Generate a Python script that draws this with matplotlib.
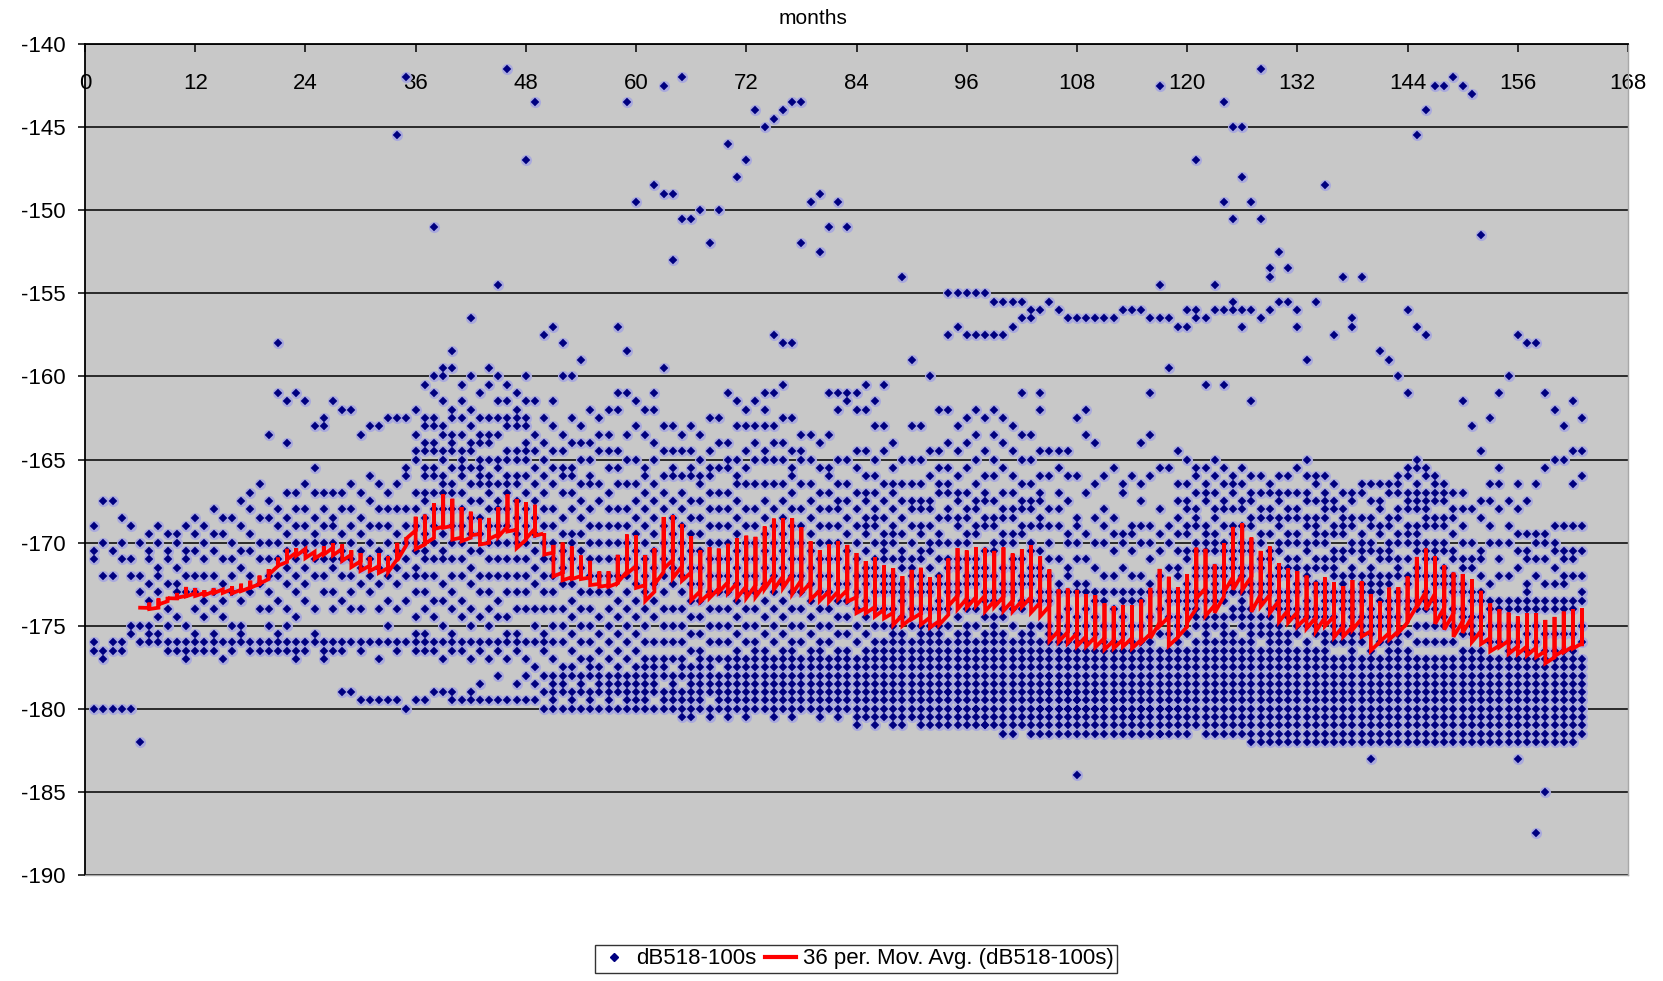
import numpy as np
import matplotlib
matplotlib.use("Agg")
import matplotlib.pyplot as plt
from matplotlib.lines import Line2D

plt.rcParams["font.family"] = ["Liberation Sans", "DejaVu Sans"]
plt.rcParams["axes.unicode_minus"] = False

# Monthly readings of dB518-100s; each string is one month (month 1 first),
# values are level magnitudes in dB and are plotted as negative numbers.
M001_012 = [
    "169 170.5 171 176 176.5 180",
    "167.5 170 172 176.5 177 180",
    "167.5 170.5 172 176 176.5 180",
    "168.5 170 171 176 176.5 180",
    "169 171 172 175 175.5 180",
    "170 172 173 175 176 182",
    "169.5 170.5 171 172.5 173.5 175 175.5 176",
    "169 170 171.5 172 173 174.5 175.5 176",
    "169.5 170.5 171 172.5 174 175 176 176.5",
    "169.5 170 171.5 172.5 173 174.5 176 176.5",
    "169 170.5 171 172 173 175 176 176.5 177",
    "168.5 169.5 170.5 172 173 174 175.5 176 176.5",
]
M013_024 = [
    "169 170 171 172 173.5 174.5 176 176.5",
    "168 169.5 170.5 172 173 174 175.5 176 176.5",
    "168.5 169.5 171 172.5 173.5 174.5 176 177",
    "168.5 170 171 172 173 175 176 176.5",
    "167.5 169 170.5 171.5 173.5 175 175.5 176",
    "167 168 169.5 170.5 172 173 176 176.5",
    "166.5 168.5 170 171 172.5 174 176 176.5",
    "163.5 167.5 168.5 170 171 172 173 174 175 176 176.5",
    "158 161 168 169 170 171 172 173.5 175.5 176 176.5",
    "161.5 164 167 168.5 169.5 170.5 171.5 172.5 174 175 176 176.5",
    "161 167 168 169 170 171 172 173 174.5 176 176.5 177",
    "161.5 166.5 168 169 170 170.5 171.5 172.5 173.5 176 176.5",
]
M025_036 = [
    "163 165.5 167 168.5 169.5 170 171 172 174 175.5 176",
    "162.5 163 167 168 169 170 171 172 173 176 176.5 177",
    "161.5 167 168.5 169 170 171 171.5 173 174 176 176.5",
    "162 167 168 169.5 170.5 171 172 173.5 176 176.5 179",
    "162 166.5 168 169 170 171 172 173 174 176 179",
    "163.5 167 168.5 169.5 170.5 171.5 172.5 174 176 176.5 179.5",
    "163 166 167.5 169 170 171 172 173 176 179.5",
    "163 166.5 168 169 170.5 171.5 172.5 174 176 177 179.5",
    "162.5 167 168 169 170 171 172 173.5 175 176 179.5",
    "145.5 162.5 166.5 168 169.5 170.5 171.5 172.5 174 176 176.5 179.5",
    "142 162.5 165.5 166 168 169 170 171 172 173.5 176 180",
    "162 163.5 164.5 165 167 168 169 170 170.5 171.5 172 173 174.5 175.5 176 176.5 179.5",
]
M037_048 = [
    "160.5 162.5 163 164 164.5 165.5 166 167 167.5 168.5 169.5 170.5 171 172 173 174 175.5 176 176.5 179.5",
    "151 160 161 162.5 163 164 164.5 165.5 166 167 168 169 170 171 172 173.5 174.5 176 176.5 179",
    "159.5 160 161.5 163 163.5 164.5 165 166 166.5 167 168 169.5 170.5 171 172.5 173.5 175 176 177 179",
    "158.5 159.5 162 162.5 163.5 164 164.5 165.5 166.5 167 168 169 170 171 172 173 174 175.5 176 176.5 179 179.5",
    "160.5 161.5 162.5 163.5 164.5 165 165.5 166 167 168 169 170 171 172 173.5 174.5 176 176.5 179.5",
    "156.5 160 162 163 164 164.5 165.5 166.5 167.5 168.5 169.5 170.5 171.5 172.5 174 175 176 177 179 179.5",
    "161 162.5 163.5 164 165 165.5 166 166.5 167.5 168.5 169.5 170.5 172 173 174.5 176 176.5 178.5 179.5",
    "159.5 160.5 162.5 163.5 164 165 166 166.5 167 168 169 170 171 172 173 174 175 176 177 179.5",
    "154.5 160 161.5 162.5 163.5 165 165.5 166.5 167.5 168 169 170 171 172 173.5 174.5 176 176.5 178 179.5",
    "141.5 160.5 161.5 162.5 163 164.5 165 166 166.5 167 168 169 170 171 172 173 174.5 175.5 176 177 179.5",
    "161 162 162.5 163 164.5 165 166 166.5 167.5 168.5 169.5 170 171 172 173 174 175.5 176 176.5 178.5 179.5",
    "147 160 161.5 162.5 163 164 164.5 165 166 167 168 169 170 171 172 173 174 176 177 178 179.5",
]
M049_060 = [
    "143.5 161.5 163.5 164.5 165.5 166.5 167.5 168.5 169.5 170.5 171.5 172.5 174 175 176 177.5 178.5 179.5",
    "157.5 162.5 164 165 166 167 168 169 170 171 172 173 174 175.5 176 176.5 178 179 180",
    "157 161.5 163 164.5 165.5 166.5 168 169 170 171 172 173 174 175 176 177 178 178.5 179 179.5 180",
    "158 160 163.5 164.5 165.5 166 167 168.5 169.5 170.5 171.5 172.5 174 175 176 177.5 178 178.5 179 180",
    "160 162.5 164 165.5 166 167 168 169.5 170 171 172.5 173.5 174.5 175.5 176.5 177.5 178 179 179.5 180",
    "159 163 164 165 166.5 167.5 168.5 169.5 170.5 171.5 173 174 175 176 177 178 178.5 179 180",
    "162 164 165 166 166.5 168 169 170 171 172 173 174 175 176 177 177.5 178 179 179.5 180",
    "162.5 163.5 164.5 166.5 167.5 169 170 171 172 173 174.5 175.5 176.5 177.5 178 178.5 179 180",
    "162 163.5 164.5 165.5 167 168 169 170 171 172 173 174 175 176 177 178 178.5 179 179.5 180",
    "157 161 162 164.5 165.5 166.5 168 169 170 171 172 173.5 174.5 175.5 176.5 177.5 178 178.5 179 180",
    "143.5 158.5 161 163.5 165 166.5 168 169 170 171 172 173 174 175 176 177 178 178.5 179 179.5 180",
    "149.5 161.5 163 165 166.5 167.5 168.5 169.5 170.5 171.5 172.5 173.5 174.5 175.5 176.5 177.5 178 178.5 179 179.5 180",
]
M061_072 = [
    "162 163.5 165.5 166 167 168 169 170 171 172 173 174 175 176 177 177.5 178 178.5 179 179.5 180",
    "148.5 161 162 164 165 166.5 167.5 168.5 169.5 170.5 171.5 172.5 173.5 174.5 176 177 177.5 178 178.5 179 180",
    "142.5 149 159.5 163 164.5 166 167 168 169 170 171 172 173 174 175 176 177 177.5 178 179 179.5 180",
    "149 153 163 164.5 165.5 166 167.5 168.5 169.5 170.5 171.5 172.5 174 175 176 177 178 178.5 179 179.5 180",
    "142 150.5 163.5 164.5 166 167 168 169 170 171 172 173 174 175 176 177 177.5 178 179 179.5 180 180.5",
    "150.5 163 164.5 165.5 166 167.5 168.5 169.5 170.5 171.5 172.5 173.5 174.5 175.5 176.5 177.5 178 178.5 179 179.5 180 180.5",
    "150 163.5 165 166 166.5 167.5 168.5 169.5 170.5 171.5 172.5 173.5 174.5 175.5 176.5 177 177.5 178 178.5 179 179.5 180",
    "152 162.5 164.5 165.5 166 167 168 169 170 171 172 173 174 175 176 177 177.5 178 178.5 179 180 180.5",
    "150 162.5 164 165.5 167 168 169 170 171 172 173 174 175 176 177 178 178.5 179 179.5 180",
    "146 161 164 165 165.5 167 168 169 170 171 172 173 174 175 176 177 177.5 178 178.5 179 179.5 180 180.5",
    "148 161.5 163 165 166 166.5 167.5 168.5 169.5 170.5 171.5 172.5 173.5 174.5 175.5 176.5 177 177.5 178 178.5 179 179.5 180",
    "147 162 163 164.5 165.5 166.5 168 169 170 171 172 173 174 175 176 177 177.5 178 178.5 179 179.5 180 180.5",
]
M073_084 = [
    "144 161.5 163 164 165 166.5 168 169 170 171 172 173 174 175 176 176.5 177 177.5 178 178.5 179 179.5 180",
    "145 161 162 163 164.5 165 166.5 167.5 168.5 169.5 170.5 171.5 172.5 173.5 174.5 175.5 176.5 177 177.5 178 178.5 179 179.5 180",
    "144.5 157.5 161 163 164 165 166.5 168 169 170 171 172 173 174 175 176 177 177.5 178 178.5 179 179.5 180 180.5",
    "144 158 160.5 162.5 164 165 166.5 167.5 168.5 169.5 170.5 171.5 172.5 173.5 174.5 175.5 176.5 177 177.5 178 178.5 179 179.5 180",
    "143.5 158 162.5 164.5 165.5 166 167 168 169 170 171 172 173 174 175 176 176.5 177 177.5 178 178.5 179 179.5 180 180.5",
    "143.5 152 163.5 164.5 165 166.5 168 169 170 171 172 173 174 175 176 177 177.5 178 178.5 179 179.5 180",
    "149.5 163.5 165 166.5 167.5 168.5 169.5 170.5 171.5 172.5 173.5 174.5 175.5 176.5 177 177.5 178 178.5 179 179.5 180",
    "149 152.5 164 165.5 167 168 169 170 171 172 173 174 175 176 176.5 177 177.5 178 178.5 179 179.5 180 180.5",
    "151 161 163.5 165.5 166 167 168 169 170 171 172 173 174 175 176 177 177.5 178 178.5 179 179.5 180",
    "149.5 161 162 165 166.5 167.5 168 169 170 171 172.5 173.5 174.5 175.5 176.5 177 177.5 178 178.5 179 179.5 180 180.5",
    "151 161 161.5 165 166.5 167.5 168.5 169.5 170.5 171.5 172.5 173.5 174.5 175.5 176.5 177 177.5 178 178.5 179 179.5 180",
    "161 162 164.5 165.5 167 168 169 170 171 172 173 174 175 176 177 177.5 178 178.5 179 179.5 180 180.5 181",
]
M085_096 = [
    "160.5 162 164.5 166 167 167.5 168.5 169 169.5 170.5 171.5 172 172.5 173.5 174.5 175.5 176.5 177 177.5 178 178.5 179 179.5 180 180.5",
    "161.5 163 165 166 167 168 168.5 169 170 171 171.5 172 173 174 175 176 176.5 177 177.5 178 178.5 179 179.5 180 180.5 181",
    "160.5 163 164.5 166.5 167.5 168.5 169.5 170 170.5 171 172 172.5 173 174 175 176 176.5 177 177.5 178 178.5 179 179.5 180 180.5",
    "164 165.5 166.5 167 168 169 169.5 170 171 172 172.5 173 174 175 175.5 176 176.5 177 177.5 178 178.5 179 179.5 180 180.5 181",
    "154 165 166.5 167.5 168.5 169.5 170.5 171 171.5 172.5 173 173.5 174.5 175.5 176 176.5 177 177.5 178 178.5 179 179.5 180 180.5 181",
    "159 163 165 166.5 167.5 168 169 170 171 171.5 172 173 174 175 176 176.5 177 177.5 178 178.5 179 179.5 180 180.5",
    "163 165 166.5 167.5 168 169 169.5 170.5 171 172 172.5 173 174 175 175.5 176 176.5 177 177.5 178 178.5 179 179.5 180 180.5 181",
    "160 164.5 166 167.5 168 169 170 170.5 171.5 172.5 173 174 175 175.5 176 176.5 177 177.5 178 178.5 179 179.5 180 180.5 181",
    "162 164.5 165.5 166.5 167 168.5 169.5 170 171 172 172.5 173.5 174 175 175.5 176 176.5 177 177.5 178 178.5 179 179.5 180 180.5 181",
    "155 157.5 162 164 165.5 166.5 167 168 168.5 170 171 171.5 172.5 173 174 175 176 176.5 177 177.5 178 178.5 179 179 179.5 180 180.5 181",
    "155 157 163 164.5 166 167 167.5 168.5 169 170 171 171.5 172.5 173 174.5 175.5 176 176.5 177 177.5 178 178.5 179 179.5 180 180 180.5 181",
    "155 157.5 162.5 164 165.5 167 168 168.5 169.5 170 171 172 172.5 173.5 174 175 175.5 176 176.5 177 177.5 178 178.5 179 179.5 180 180.5 181",
]
M097_108 = [
    "155 157.5 162 163.5 165 166.5 167.5 168 169 169.5 171 171.5 172 172.5 174 175 176 176.5 177 177.5 178 178.5 179 179.5 180 180 180.5 181",
    "155 157.5 162.5 164.5 166 167 167.5 168.5 169 170.5 171.5 172 173 173.5 174.5 175.5 176 176.5 177 177.5 178 178.5 179 179.5 180 180.5 181 181",
    "155.5 157.5 162 163.5 165 166 167.5 168.5 169 170 170.5 172 173 173.5 174.5 175 175.5 176 176.5 177 177.5 178 178.5 179 179.5 180 180.5 181",
    "155.5 157.5 162.5 164 165.5 167 168 168.5 169.5 170 171.5 172.5 173 174 174.5 175.5 176 176.5 177 177.5 178 178.5 179 179.5 180 180.5 181 181.5",
    "155.5 157 163 164.5 166 167 168 168.5 169.5 170 171 171.5 172.5 173 174 175 176 176.5 177 177.5 178 178.5 179 179.5 180 180.5 181 181.5",
    "155.5 156.5 161 163.5 165 166.5 167.5 168 169 169.5 171 172 172.5 173.5 174 175.5 176 176.5 177 177.5 178 178.5 179 179.5 180 180.5 181",
    "156 156.5 163.5 165 166.5 167.5 168 169 170 170.5 171.5 172 172.5 173.5 175 175.5 176 176.5 177 177.5 178 178.5 179 179.5 180 180.5 181 181.5",
    "156 161 162 164.5 166 167 167.5 168.5 169 170.5 171.5 172 173 173.5 175 176 176.5 177 177.5 178 178.5 179 179.5 180 180 180.5 181 181.5",
    "155.5 164.5 166 168 169 170 171 172 173 173.5 175 175.5 176 176.5 177 177.5 178 178 178.5 179 179 179.5 180 180 180.5 181 181.5",
    "156 164.5 165.5 167 168 169 171 172.5 173 174.5 175.5 176 176.5 177 177.5 178 178.5 178.5 179 179.5 180 180 180.5 181 181.5",
    "156.5 164.5 166 167.5 169.5 170 171.5 172 173 174 175 176 176.5 177 177.5 178 178.5 179 179 179.5 180 180 180.5 181 181.5",
    "156.5 162.5 166 168.5 169 170 171 172.5 173 174.5 175.5 176 176.5 177 177.5 178 178.5 179 179.5 179.5 180 180 180.5 181 181.5 184",
]
M109_120 = [
    "156.5 162 163.5 167 169.5 171 172.5 173 174 175 176 176.5 177 177.5 178 178.5 179 179.5 180 180 180.5 181 181.5",
    "156.5 164 166.5 168.5 170 171.5 173 173.5 174.5 175.5 176.5 177 177.5 178 178.5 179 179 179.5 180 180 180.5 181 181.5",
    "156.5 166 168 169 170 172 173 173.5 175 176 176.5 177 177.5 178 178.5 179 179.5 180 180 180.5 181 181.5",
    "156.5 165.5 168.5 169.5 170.5 172 173 174 175 176 176.5 177 177.5 178 178.5 179 179.5 179.5 180 180.5 181 181.5",
    "156 166.5 167 169.5 170 171.5 173 173.5 174.5 175.5 176.5 177 177.5 178 178.5 179 179.5 180 180 180.5 181 181.5",
    "156 166 169 169.5 170.5 172 173 173.5 175 176 176.5 177 177.5 178 178.5 179 179.5 180 180.5 180.5 181 181.5",
    "156 164 166.5 167.5 169 170 172 173 173.5 175 176 176.5 177 177.5 178 178.5 179 179.5 180 180 180.5 181 181.5",
    "156.5 161 163.5 166 169 170 171 172.5 173 174.5 176 176.5 177 177.5 178 178.5 179 179.5 180 180 180.5 181 181.5",
    "142.5 154.5 156.5 165.5 168 169.5 170.5 172 173 174 175.5 176.5 177 177.5 178 178.5 179 179.5 180 180 180.5 181 181.5 181.5",
    "156.5 159.5 165.5 169 170 171.5 173 173.5 174.5 175.5 176.5 177 177.5 178 178.5 179 179.5 180 180 180.5 181 181.5",
    "157 164.5 166.5 167.5 168.5 169.5 170.5 171.5 172 173 173.5 174.5 175 176 176.5 177 177.5 178 178.5 179 179.5 180 180 180.5 181 181.5",
    "156 157 165 166.5 167.5 168 169 169.5 170.5 171 172.5 173 173.5 174 175.5 176.5 177 177.5 178 178.5 179 179.5 180 180.5 181 181.5",
]
M121_132 = [
    "147 156 156.5 165.5 166 167 168 168.5 169 170 170.5 171.5 172 173 173.5 174 174.5 175 176 176.5 177 177.5 178 178.5 179 179.5 180 180.5 181",
    "156.5 160.5 165.5 166.5 167 167.5 169 169.5 170 170.5 171.5 172 173 173.5 174.5 175 175.5 176 176.5 177 177.5 178 178.5 179 179.5 180 180.5 181 181.5",
    "154.5 156 165 166 167 168 168.5 169.5 170 170.5 171.5 172 172.5 173 173.5 174.5 175 176 176.5 177 177.5 178 178.5 179 179.5 180 180.5 181 181.5",
    "143.5 149.5 156 160.5 165.5 166.5 167.5 168 169 170 170.5 171.5 172 173 173.5 174.5 175 175.5 176 176.5 177 177.5 178 178.5 179 179.5 180 180.5 181 181.5",
    "145 150.5 155.5 156 166 166.5 167 168 169 169.5 170.5 171 171.5 172.5 173 174 174.5 175.5 176 176.5 177 177.5 178 178.5 179 179.5 180 180.5 181 181.5",
    "145 148 156 157 165.5 166.5 167.5 168 169 170 170.5 171.5 172 173 173.5 174 174.5 175 176 176.5 177 177.5 178 178.5 179 179.5 180 180.5 181 181.5",
    "149.5 156 161.5 166 167 167.5 168.5 169 170 170.5 171.5 172.5 173 174 174.5 175 175.5 176 176.5 177 177.5 178 178.5 179 179.5 180 180.5 181 181.5 182",
    "141.5 150.5 156.5 166 167 168 168.5 169.5 170 171 171.5 172.5 173 173.5 174.5 175 175.5 176.5 177 177.5 178 178.5 179 179.5 180 180.5 181 181.5 182",
    "153.5 154 156 166.5 167 168 168.5 169.5 170.5 171 172 172.5 173 174 174.5 175 175.5 176 176.5 177 177.5 178 178.5 179 179.5 180 180.5 181 181.5 182",
    "152.5 155.5 166 167 167.5 168.5 169 170 170.5 171.5 172 173 173.5 174 175 175.5 176 176.5 177 177.5 178 178.5 179 179.5 180 180.5 181 181.5 182",
    "153.5 155.5 166 167 168 168.5 169.5 170 171 171.5 172 173 173.5 174 174.5 175.5 176 176.5 177 177.5 178 178.5 179 179.5 180 180.5 181 181.5 182",
    "156 157 165.5 167 168 168.5 169.5 170 171 171.5 172.5 173 174 174.5 175 175.5 176.5 177 177.5 178 178.5 179 179.5 180 180.5 181 181.5 182",
]
M133_144 = [
    "159 165 166 167 167.5 168.5 169 170 170.5 171.5 172 172.5 173.5 174 174.5 175 176 176.5 177 177.5 178 178.5 179 179.5 180 180.5 181 181.5 182",
    "155.5 166 166.5 167.5 168.5 169 169.5 170 171 171.5 172.5 173 174 174.5 175 175.5 176.5 177 177.5 178 178.5 179 179.5 180 180.5 181 181.5 182",
    "148.5 166 167 167.5 168 168.5 169.5 170 171 171.5 172.5 173 173.5 174 174.5 175.5 176 176.5 177 177.5 178 178.5 179 179.5 180 180.5 181 181.5 182",
    "157.5 166.5 167.5 168 169 169.5 170.5 171 171.5 172 173 173.5 174.5 175 175.5 176 177 177.5 178 178.5 179 179.5 180 180.5 181 181.5 182",
    "154 167 168 168.5 169 169.5 170.5 171 172 172.5 173 173.5 174 175 175.5 176 177 177.5 178 178.5 179 179.5 180 180.5 181 181.5 182",
    "156.5 157 167 167.5 168.5 169 170 170.5 171.5 172 173 173.5 174 174.5 175.5 176 176.5 177 177.5 178 178.5 179 179.5 180 180.5 181 181.5 182",
    "154 166.5 167 168.5 169.5 170 170.5 171 172 172.5 173 173.5 174.5 175 175.5 176 177 177.5 178 178.5 179 179.5 180 180.5 181 181.5 182",
    "166.5 167.5 168.5 169 170 170.5 171.5 172 172.5 173 174 174.5 175 175.5 176.5 177 177.5 178 178.5 179 179.5 180 180.5 181 181.5 182 183",
    "158.5 166.5 167.5 168 169 169.5 170.5 171 172 172.5 173 173.5 174.5 175 176 177 177.5 178 178.5 179 179.5 180 180.5 181 181.5 182",
    "159 166.5 167 168.5 169 170 170.5 171 172 172.5 173.5 174 174.5 175 176 176.5 177 177.5 178 178.5 179 179.5 180 180.5 181 181.5 182",
    "160 166 166.5 167 168 168.5 169.5 170 171 171.5 172 173 173.5 174.5 175.5 176 176.5 177 177.5 178 178.5 179 179.5 180 180.5 181 181.5 182",
    "156 161 165.5 166 167 167.5 168 169 169.5 170 171 172 172.5 173.5 174 175.5 176.5 177 177.5 178 178.5 179 179.5 180 180.5 181 181.5 182",
]
M145_156 = [
    "145.5 157 165 165.5 166.5 167 167.5 168 169 169.5 170 170.5 171.5 172 173.5 174 175 176 177 177.5 178 178.5 179 179.5 180 180.5 181 181.5 182",
    "144 157.5 165.5 166 167 167.5 168 168.5 169 170 170.5 171 172 173 173.5 174 175 176 177 177.5 178 178.5 179 179.5 180 180.5 181 181.5 182",
    "142.5 166 166.5 167 167.5 168.5 169 170 170.5 171 172 172.5 173.5 174 175 176 177 177.5 178 178.5 179 179.5 180 180.5 181 181.5 182",
    "142.5 166.5 167 167.5 168.5 169 170 170.5 171.5 172 172.5 173.5 174.5 175 176 177 177.5 178 178.5 179 179.5 180 180.5 181 181.5 182",
    "142 167 168 168.5 169.5 170.5 171 172 172.5 173 174 175 176 177 177.5 178 178.5 179 179.5 180 180.5 181 181.5 182",
    "142.5 161.5 167 168 169 170 171 171.5 172.5 173 174 174.5 175.5 176.5 177 177.5 178 178.5 179 179.5 180 180.5 181 181.5 182",
    "143 163 168 170 171 171.5 173 173.5 174.5 175 175.5 176.5 177 177.5 178 178.5 179 179.5 180 180.5 181 181.5 182",
    "151.5 164.5 167.5 168.5 170.5 171 172 173 173.5 174.5 175.5 176.5 177 177.5 178 178.5 179 179.5 180 180.5 181 181.5 182",
    "162.5 166.5 167.5 169 170 172.5 173.5 174 175 176 177 177.5 178 178.5 179 179.5 180 180.5 181 181.5 182",
    "161 165.5 166.5 168 170 171 172 173.5 174 175 176 177 177.5 178 178.5 179 179.5 180 180.5 181 181.5 182",
    "160 167.5 169 170 172 173.5 174 175 176 176.5 177 177.5 178 178.5 179 179.5 180 180.5 181 181.5 182",
    "157.5 166.5 168 169.5 170.5 171.5 173.5 174 175 176 177 177.5 178 178.5 179 179.5 180 180.5 181 181.5 182 183",
]
M157_163 = [
    "158 167.5 169.5 170.5 171 172.5 173 173.5 174 175.5 176.5 177 177.5 178 178.5 179 179.5 180 180.5 181 181.5 182",
    "158 166.5 169.5 170 171 172 173.5 174 175 176 177 177.5 178 178.5 179 179.5 180 180.5 181 181.5 182 187.5",
    "161 165.5 169.5 170 171 172.5 173.5 174 175.5 176.5 177 177.5 178 178.5 179 179.5 180 180.5 181 181.5 182 185",
    "162 165 169 170 170.5 171.5 172.5 173.5 174 175.5 176.5 177 177.5 178 178.5 179 179.5 180 180.5 181 181.5 182",
    "163 165 169 170.5 171 172 172.5 173.5 174 175.5 176.5 177 177.5 178 178.5 179 179.5 180 180.5 181 181.5 182",
    "161.5 164.5 166.5 169 170.5 171 172 173.5 174 175.5 176.5 177 177.5 178 178.5 179 179.5 180 180.5 181 181.5 182",
    "162.5 164.5 166 169 170.5 172 173 173.5 175 176 177 177.5 178 178.5 179 179.5 180 180.5 181 181.5",
]

SERIES_NAME = "dB518-100s"
MA_PERIOD = 36
MA_NAME = f"{MA_PERIOD} per. Mov. Avg. ({SERIES_NAME})"
X_TICKS = list(range(0, 169, 12))
Y_TICKS = list(range(-190, -139, 5))

# flatten the monthly columns into x/y arrays
months = M001_012 + M013_024 + M025_036 + M037_048 + M049_060 + M061_072 + \
    M073_084 + M085_096 + M097_108 + M109_120 + M121_132 + M133_144 + \
    M145_156 + M157_163
xs, ys = [], []
for m, col in enumerate(months, start=1):
    vals = [-float(v) for v in col.split()]
    xs.extend([m] * len(vals))
    ys.extend(vals)
xs = np.array(xs, dtype=float)
ys = np.array(ys, dtype=float)

# trailing moving average over the point sequence
ma = np.convolve(ys, np.ones(MA_PERIOD) / MA_PERIOD, mode="valid")
ma_x = xs[MA_PERIOD - 1:]

fig = plt.figure(figsize=(16.63, 9.81), dpi=100)
ax = fig.add_axes([85 / 1663, 1 - 875 / 981, (1628 - 85) / 1663, (875 - 44) / 981])
ax.set_facecolor("#c8c8c8")

navy = "#000080"
ax.plot(xs, ys, ls="none", marker="o", ms=8.0, color="#aaaadd", mew=0, zorder=2)
ax.plot(xs, ys, ls="none", marker="D", ms=3.8, color=navy, mec=navy, mew=0.3, zorder=3)
ax.plot(ma_x, ma, color="#ff0000", lw=2.7, zorder=4, solid_joinstyle="miter")

ax.set_xlim(0, 168)
ax.set_ylim(-190, -140)
ax.set_yticks(Y_TICKS)
ax.set_xticks(X_TICKS)
ax.grid(axis="y", color="black", lw=1.1, zorder=1)
ax.set_axisbelow(True)

ax.xaxis.set_ticks_position("top")
ax.xaxis.set_label_position("top")
ax.tick_params(axis="x", direction="in", length=6, width=1.1, pad=-36,
               labelsize=16, labeltop=True, labelbottom=False)
ax.tick_params(axis="y", direction="out", length=5, width=1.1, pad=9,
               labelsize=16)
for side in ("left", "top"):
    ax.spines[side].set_color("black")
    ax.spines[side].set_linewidth(1.3)
for side in ("right", "bottom"):
    ax.spines[side].set_color("#a8a8a8")
    ax.spines[side].set_linewidth(1.0)

fig.text(813 / 1663, 1 - 19 / 981, "months", ha="center", va="center", fontsize=15)

handles = [
    Line2D([], [], ls="none", marker="D", ms=3.6, color=navy),
    Line2D([], [], color="#ff0000", lw=3),
]
leg = fig.legend(handles, [SERIES_NAME, MA_NAME], loc="upper center",
                 bbox_to_anchor=(856 / 1663, 1 - 945 / 981), ncol=2,
                 fontsize=16, frameon=True, fancybox=False, edgecolor="black",
                 borderpad=0.15, handlelength=1.4, handletextpad=0.3,
                 columnspacing=0.4, borderaxespad=0)
leg.get_frame().set_linewidth(1.0)

fig.savefig("out.png", dpi=100, facecolor="white")
